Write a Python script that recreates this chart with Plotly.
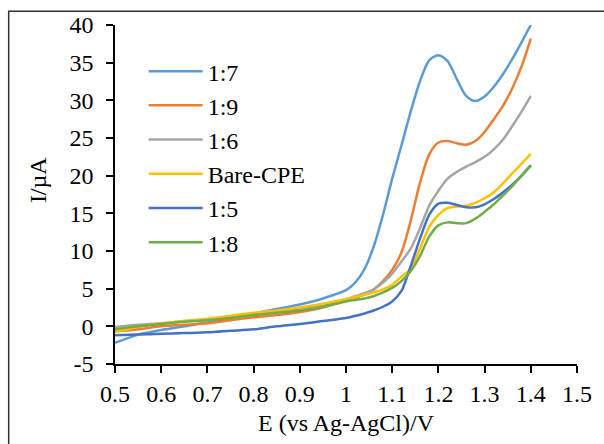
import plotly.graph_objects as go

E = [0.50, 0.55, 0.60, 0.65, 0.70, 0.75, 0.80, 0.85, 0.90, 0.95, 1.00, 1.02, 1.04, 1.06, 1.08, 1.10,
     1.12, 1.14, 1.16, 1.18, 1.20, 1.22, 1.24, 1.26, 1.28, 1.30, 1.32, 1.34, 1.36, 1.38, 1.40]

s_1_7 = [-2.2, -1.1, -0.5, 0.0, 0.5, 1.1, 1.7, 2.3, 2.9, 3.7, 4.8, 5.8, 7.6, 10.6, 14.8, 19.6,
         24.0, 28.5, 32.5, 35.3, 36.0, 35.2, 32.8, 30.6, 29.9, 30.5, 31.8, 33.5, 35.5, 37.7, 40.0]
s_1_9 = [-0.7, -0.4, 0.0, 0.2, 0.4, 0.8, 1.2, 1.5, 1.9, 2.5, 3.4, 3.8, 4.2, 4.9, 6.0, 7.5,
         9.8, 14.0, 19.0, 22.8, 24.4, 24.6, 24.3, 24.1, 24.6, 25.8, 27.5, 29.3, 31.6, 34.5, 38.2]
s_1_6 = [-0.1, 0.2, 0.4, 0.7, 0.9, 1.2, 1.6, 2.0, 2.4, 2.9, 3.6, 4.0, 4.4, 4.9, 5.8, 7.0,
         8.6, 10.3, 13.0, 16.0, 18.0, 19.6, 20.5, 21.2, 21.8, 22.5, 23.5, 24.8, 26.6, 28.5, 30.6]
s_bare = [-0.7, -0.1, 0.4, 0.7, 1.0, 1.4, 1.8, 2.1, 2.5, 3.0, 3.6, 3.9, 4.2, 4.5, 4.9, 5.5,
          6.6, 7.6, 10.3, 13.2, 14.8, 15.7, 15.9, 16.0, 16.4, 17.0, 17.8, 19.0, 20.3, 21.6, 22.9]
s_1_5 = [-1.2, -1.1, -1.0, -0.9, -0.8, -0.6, -0.4, 0.0, 0.3, 0.7, 1.1, 1.4, 1.7, 2.1, 2.6, 3.3,
         4.7, 8.0, 11.6, 14.8, 16.3, 16.4, 16.1, 15.8, 15.8, 16.2, 16.9, 17.8, 18.8, 20.0, 21.4]
s_1_8 = [-0.4, 0.0, 0.3, 0.6, 0.8, 1.1, 1.5, 1.8, 2.1, 2.6, 3.3, 3.5, 3.7, 4.0, 4.5, 5.1,
         6.0, 7.3, 9.3, 11.9, 13.4, 13.8, 13.7, 13.7, 14.3, 15.2, 16.2, 17.4, 18.6, 20.0, 21.3]

names = ["1:7", "1:9", "1:6", "Bare-CPE", "1:5", "1:8"]
series = [s_1_7, s_1_9, s_1_6, s_bare, s_1_5, s_1_8]
colors = ["#5B9BD5", "#ED7D31", "#A5A5A5", "#FFC000", "#4472C4", "#70AD47"]

x_ticks = [0.5, 0.6, 0.7, 0.8, 0.9, 1.0, 1.1, 1.2, 1.3, 1.4, 1.5]
x_labels = ["0.5", "0.6", "0.7", "0.8", "0.9", "1", "1.1", "1.2", "1.3", "1.4", "1.5"]
y_ticks = [-5, 0, 5, 10, 15, 20, 25, 30, 35, 40]
y_labels = ["-5", "0", "5", "10", "15", "20", "25", "30", "35", "40"]

FONT = "Times New Roman, Liberation Serif, serif"

fig = go.Figure()
for n, s, c in zip(names, series, colors):
    fig.add_trace(go.Scatter(x=E, y=s, name=n, mode="lines",
                             line=dict(color=c, width=2.5, shape="spline", smoothing=0.8)))

fig.update_layout(
    width=604, height=444,
    margin=dict(l=115, r=24, t=25, b=77),
    paper_bgcolor="white", plot_bgcolor="white",
    font=dict(family=FONT, size=24, color="black"),
    showlegend=True,
    legend=dict(x=0.062, y=0.929, xanchor="left", yanchor="top",
                bgcolor="rgba(0,0,0,0)", font=dict(family=FONT, size=24, color="black"),
                itemwidth=54, tracegroupgap=0),
    xaxis=dict(range=[0.5, 1.5], tickvals=x_ticks, ticktext=x_labels,
               showgrid=False, zeroline=False, showline=True, linecolor="black", linewidth=1.5,
               ticks="outside", ticklen=7, tickcolor="black", tickwidth=1.5,
               tickfont=dict(family=FONT, size=24),
               title=dict(text="E (vs Ag-AgCl)/V", font=dict(family=FONT, size=24), standoff=9)),
    yaxis=dict(range=[-5, 40], tickvals=y_ticks, ticktext=y_labels,
               showgrid=False, zeroline=False, showline=True, linecolor="black", linewidth=1.5,
               ticks="outside", ticklen=7, tickcolor="black", tickwidth=1.5,
               tickfont=dict(family=FONT, size=24), ticklabelstandoff=8),
)

fig.add_annotation(text="I/µA", xref="paper", yref="paper", x=-0.1677, y=0.541,
                   xanchor="center", yanchor="middle", textangle=-90, showarrow=False,
                   font=dict(family=FONT, size=24, color="black"))

fig.add_shape(type="rect", xref="paper", yref="paper",
              x0=-0.2301, x1=1.09, y0=-0.28, y1=1.0409,
              line=dict(color="#333333", width=1.5), layer="above")

fig.write_html("out.html")
